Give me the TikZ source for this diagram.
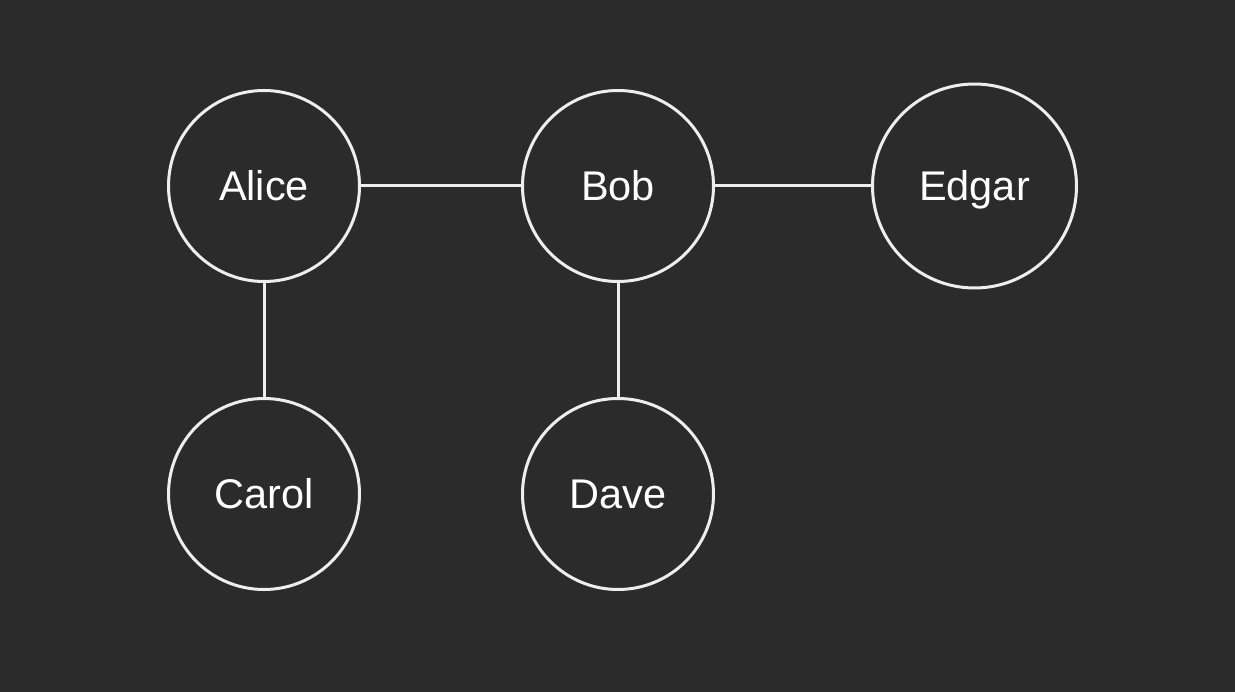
\documentclass[tikz,border=0pt]{standalone}
\usepackage{fontspec}
\setmainfont{Liberation Sans}
\definecolor{bgcol}{HTML}{2B2B2B}
\definecolor{strokecol}{HTML}{EEEEEE}
\begin{document}
\begin{tikzpicture}[x=1pt,y=-1pt,
  person/.style={circle,draw=strokecol,line width=3pt,fill=bgcol,inner sep=0pt,
    minimum size=191pt,text=white,font=\fontsize{41.5}{48}\selectfont,
    text height=30pt,text depth=0pt},
  bigperson/.style={person,minimum size=204pt},
  link/.style={draw=strokecol,line width=3pt}]
\fill[bgcol] (0,0) rectangle (1235,692);
\useasboundingbox (0,0) rectangle (1235,692);
\node[person] (alice) at (264,186) {Alice};
\node[person] (bob) at (618,186) {Bob};
\node[bigperson] (edgar) at (974.5,186) {Edgar};
\node[person] (carol) at (264,494) {Carol};
\node[person] (dave) at (618,494) {Dave};
\draw[link] (alice) -- (bob);
\draw[link] (bob) -- (edgar);
\draw[link] (alice) -- (carol);
\draw[link] (bob) -- (dave);
\end{tikzpicture}
\end{document}
